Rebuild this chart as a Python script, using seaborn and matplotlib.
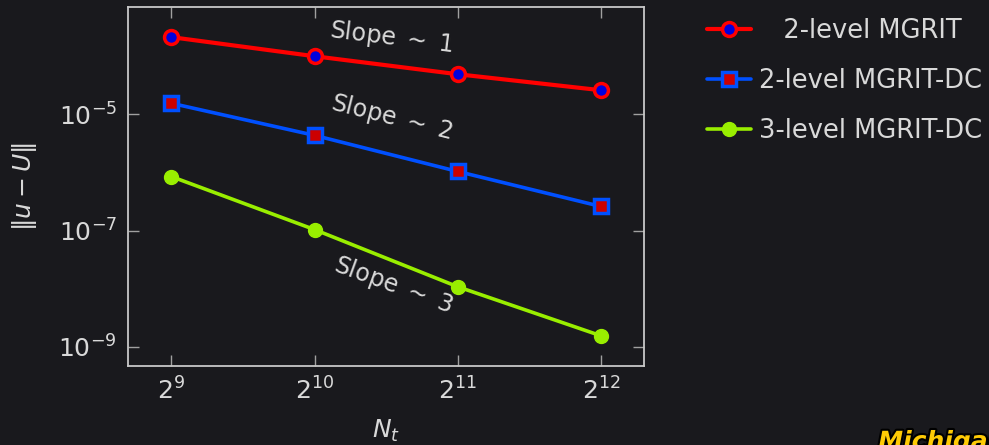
import matplotlib
matplotlib.use("Agg")
import matplotlib.pyplot as plt
import matplotlib.ticker as mticker
import matplotlib.patheffects as pe
import seaborn as sns
import pandas as pd

# ---- data ----
nt = [512, 1024, 2048, 4096]
err_mgrit2 = [2.13e-4, 1.0e-4, 4.9e-5, 2.6e-5]
err_mgritdc2 = [1.55e-5, 4.35e-6, 1.04e-6, 2.6e-7]
err_mgritdc3 = [8.5e-7, 1.04e-7, 1.08e-8, 1.55e-9]
labels = ["   2-level MGRIT", "2-level MGRIT-DC", "3-level MGRIT-DC"]
slope_texts = [r"Slope $\sim$ 1", r"Slope $\sim$ 2", r"Slope $\sim$ 3"]
slope_pos = [(1484, 2.05e-4), (1490, 8.9e-6), (1500, 1.13e-8)]
slope_rot = [-7, -14, -20]

BG = "#19191d"
FG = "#d9d9d9"

sns.set_theme(style="dark")
plt.rcParams.update({
    "font.family": ["DejaVu Sans"],
    "mathtext.fontset": "dejavusans",
    "figure.facecolor": BG,
    "axes.facecolor": BG,
    "savefig.facecolor": BG,
})

fig = plt.figure(figsize=(9.89, 4.45), dpi=100)
ax = fig.add_axes([0.1294, 0.1775, 0.5217, 0.8065])

df1 = pd.DataFrame({"Nt": nt, "err": err_mgrit2})
df2 = pd.DataFrame({"Nt": nt, "err": err_mgritdc2})
df3 = pd.DataFrame({"Nt": nt, "err": err_mgritdc3})

sns.lineplot(data=df1, x="Nt", y="err", ax=ax, color="#ff0000", lw=3,
             marker="o", markersize=10, markerfacecolor="#0000dd",
             markeredgecolor="#ff0000", markeredgewidth=2.5, label=labels[0])
sns.lineplot(data=df2, x="Nt", y="err", ax=ax, color="#0050ff", lw=2.6,
             marker="s", markersize=10, markerfacecolor="#cc0000",
             markeredgecolor="#0050ff", markeredgewidth=2.5, label=labels[1])
sns.lineplot(data=df3, x="Nt", y="err", ax=ax, color="#99ee00", lw=2.6,
             marker="o", markersize=10, markerfacecolor="#99ee00",
             markeredgecolor="#99ee00", markeredgewidth=1, label=labels[2])

ax.set_xscale("log", base=2)
ax.set_yscale("log")
ax.set_xlim(2 ** 8.697, 2 ** 12.3)
ax.set_ylim(10 ** -9.33, 10 ** -3.155)
ax.set_xticks(nt)
ax.xaxis.set_major_formatter(mticker.LogFormatterSciNotation(base=2))
ax.set_yticks([1e-9, 1e-7, 1e-5])
ax.yaxis.set_minor_locator(mticker.NullLocator())
ax.xaxis.set_minor_locator(mticker.NullLocator())

ax.tick_params(axis="both", which="major", direction="in", length=8, width=1,
               color="#a0a0a0", labelcolor=FG, labelsize=18, pad=8,
               top=True, right=True, bottom=True, left=True)
for s in ax.spines.values():
    s.set_visible(True)
    s.set_color("#c8c8c8")
    s.set_linewidth(1.3)
ax.grid(False)

ax.set_xlabel(r"$N_t$", color=FG, fontsize=18, labelpad=10)
ax.set_ylabel(r"$\|u-U\|$", color=FG, fontsize=18, labelpad=14)

for t, (x, y), r in zip(slope_texts, slope_pos, slope_rot):
    ax.text(x, y, t, color=FG, fontsize=17, rotation=r, ha="center", va="center",
            rotation_mode="anchor")

leg = ax.legend(loc="upper left", bbox_to_anchor=(1.103, 0.997), frameon=False,
                fontsize=18.5, handlelength=1.7, handletextpad=0.3,
                labelspacing=0.92, borderaxespad=0)
for txt in leg.get_texts():
    txt.set_color(FG)

fig.text(0.888, 1 - 430 / 445, "Michigan", color="#ffcb05", fontsize=18,
         fontweight="bold", fontstyle="italic", va="top", ha="left",
         path_effects=[pe.withStroke(linewidth=3, foreground="black")])

fig.savefig("out.png", dpi=100, facecolor=BG)
